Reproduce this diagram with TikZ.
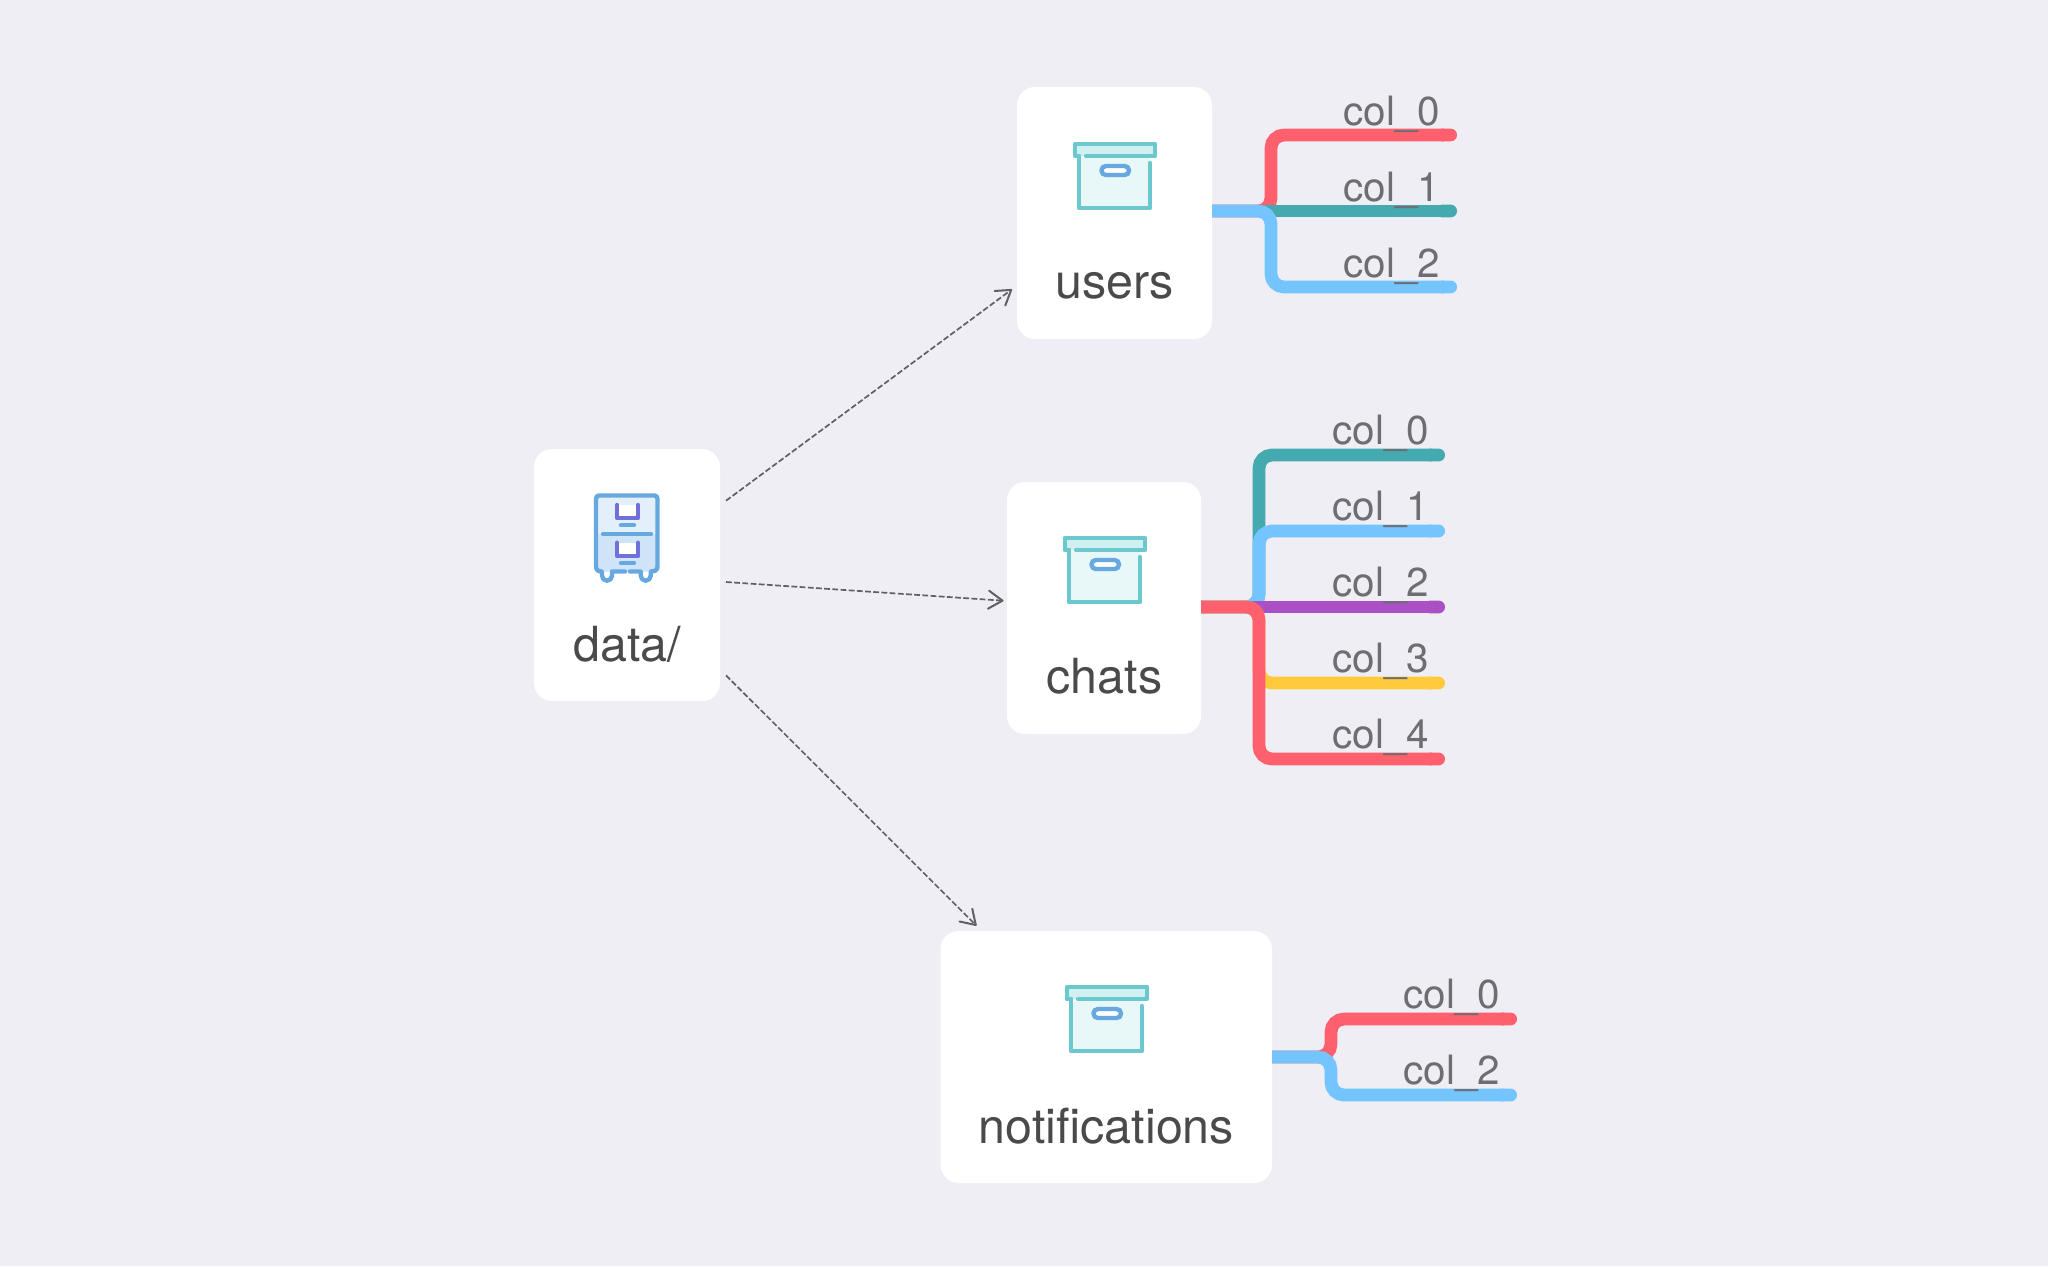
\documentclass[tikz,border=0pt]{standalone}
\usepackage{fontspec}
\setmainfont{TeX Gyre Heros}
\usetikzlibrary{arrows.meta,calc}
\definecolor{bgc}{HTML}{EEEEF4}
\definecolor{redb}{HTML}{FF606D}
\definecolor{tealb}{HTML}{45A9B0}
\definecolor{blueb}{HTML}{74C4FF}
\definecolor{purpb}{HTML}{AB4FC4}
\definecolor{yelb}{HTML}{FFCB3D}
\definecolor{titlec}{HTML}{4A4A4C}
\definecolor{colc}{HTML}{6E6E72}
\definecolor{arrc}{HTML}{5F5F66}
\definecolor{boxs}{HTML}{6AC8CE}
\definecolor{lidf}{HTML}{D0EFF0}
\definecolor{bodyf}{HTML}{E8F7F8}
\definecolor{iconb}{HTML}{68A8E0}
\definecolor{iconp}{HTML}{6F70D8}
\definecolor{cabt}{HTML}{E3F0FB}
\definecolor{cabb}{HTML}{CFE4F8}
\tikzset{
  card/.style={fill=white,rounded corners=9pt,inner sep=0pt,outer sep=0pt},
  titletext/.style={anchor=base,text=titlec,font=\fontsize{24.2}{28}\selectfont,inner sep=0pt},
  coltext/.style={anchor=base west,text=colc,font=\fontsize{20.2}{24}\selectfont,inner sep=0pt},
  branch/.style={line width=6.4pt,rounded corners=6.5pt,-{Round Cap[]}},
  flow/.style={draw=arrc,line width=.85pt,dash pattern=on 2.9pt off 1.2pt,
    -{Straight Barb[length=7pt,width=9pt,line width=1pt,round]}},
  boxicon/.pic={
    \fill[bodyf] (6,16) rectangle (77,66);
    \fill[lidf] (2,2) rectangle (82,14);
    \draw[boxs,line width=2.2pt,line cap=round,line join=round] (13,14) -- (82,14) -- (82,2) -- (2,2) -- (2,14) -- (6,14);
    \draw[boxs,line width=2.2pt,line cap=round,line join=round] (6,14) -- (6,66) -- (77,66) -- (77,21);
    \draw[iconb,fill=white,line width=2.2pt,rounded corners=2.2pt] (28.5,24) rectangle (56,33);
  }
}
\begin{document}
\begin{tikzpicture}[x=0.5pt,y=-0.5pt]
\fill[bgc] (0,0) rectangle (2048,1266);
\useasboundingbox (0,0) rectangle (2048,1266);

% cards
\node[card,minimum width=93pt,minimum height=126pt] (data) at (627,575) {};
\node[card,minimum width=97.5pt,minimum height=126pt] (users) at (1114.5,213) {};
\node[card,minimum width=97pt,minimum height=126pt] (chats) at (1104,608) {};
\node[card,minimum width=165.75pt,minimum height=126pt] (notif) at (1106.25,1057) {};

% titles
\node[titletext] (tdata) at (627.5,661) {data/};
\node[titletext] (tusers) at (1114.5,298.3) {users};
\node[titletext] (tchats) at (1104.5,693.3) {chats};
\node[titletext] (tnotif) at (1106.5,1143.7) {notifications};

% icons
\pic at (1073,142) {boxicon};
\pic at (1063,536) {boxicon};
\pic at (1065,985) {boxicon};

% cabinet icon
\fill[cabb,rounded corners=3pt] (596,495.5) rectangle (657.5,571.5);
\fill[cabt,rounded corners=1.5pt] (596,495.5) -- (657.5,495.5) -- (657.5,534) -- (596,534) -- cycle;
\draw[iconb,line width=2.2pt,line cap=round,line join=round]
  (625,571.5) -- (612,571.5) -- (612,575.7) arc[start angle=0,end angle=180,radius=5]
  -- (602,571.5) .. controls (598,571.5) and (596,570) .. (596,566)
  -- (596,499) .. controls (596,497) and (597,495.5) .. (599,495.5)
  -- (654.5,495.5) .. controls (656.5,495.5) and (657.5,497) .. (657.5,499)
  -- (657.5,566) .. controls (657.5,570) and (655.5,571.5) .. (650.7,571.5)
  -- (650.7,575.7) arc[start angle=0,end angle=180,radius=5]
  -- (640.7,571.5) -- (630,571.5);
\draw[iconb,line width=2.2pt,line cap=round] (603,534) -- (651,534);
\draw[iconb,line width=2.2pt,line cap=round] (621,525) -- (634,525);
\draw[iconb,line width=2.2pt,line cap=round] (621,563) -- (634,563);
\fill[white] (617,505) rectangle (638,518);
\fill[white] (617,542.7) rectangle (638,556);
\draw[iconp,line width=2.2pt,line cap=round,line join=round] (617,505) -- (617,518) -- (638,518) -- (638,505);
\draw[iconp,line width=2.2pt,line cap=round,line join=round] (617,542.7) -- (617,556) -- (638,556) -- (638,542.7);

% flow arrows
\draw[flow] ([shift={(6,-74.3)}]data.east) -- ([shift={(-5,76.3)}]users.west);
\draw[flow] ([shift={(6,7)}]data.east) -- ([shift={(-3.5,-7.3)}]chats.west);
\draw[flow] ([shift={(6,100.3)}]data.east) -- ([shift={(36,-5.3)}]notif.north west);

% users branches
\coordinate (uout) at (users.east |- 0,211);
\coordinate (ue0) at (1457,135);
\coordinate (ue1) at (1457,211);
\coordinate (ue2) at (1457,287);
\coordinate (uv0) at (1271,135);
\coordinate (uv2) at (1271,287);
\draw[branch,redb] (uout) -| (uv0) -- (ue0);
\draw[branch,tealb] (uout) -- (ue1);
\draw[branch,blueb] (uout) -| (uv2) -- (ue2);

% chats branches
\coordinate (cout) at (chats.east |- 0,607);
\coordinate (ce0) at (1445,455);
\coordinate (ce1) at (1445,531);
\coordinate (ce2) at (1445,607);
\coordinate (ce3) at (1445,683);
\coordinate (ce4) at (1445,759);
\coordinate (cv0) at (1259,455);
\coordinate (cv1) at (1259,531);
\coordinate (cv3) at (1259,683);
\coordinate (cv4) at (1259,759);
\draw[branch,tealb] (cout) -| (cv0) -- (ce0);
\draw[branch,blueb] (cout) -| (cv1) -- (ce1);
\draw[branch,purpb] (cout) -- (ce2);
\draw[branch,yelb] (cout) -| (cv3) -- (ce3);
\draw[branch,redb] (cout) -| (cv4) -- (ce4);

% notifications branches
\coordinate (nout) at (notif.east |- 0,1057);
\coordinate (ne0) at (1517,1019);
\coordinate (ne2) at (1517,1095);
\coordinate (nv0) at (1331,1019);
\coordinate (nv2) at (1331,1095);
\draw[branch,redb] (nout) -| (nv0) -- (ne0);
\draw[branch,blueb] (nout) -| (nv2) -- (ne2);

% column labels
\node[coltext] (lu0) at (1343,125.5) {col\_0};
\node[coltext] (lu1) at (1343,201.5) {col\_1};
\node[coltext] (lu2) at (1343,277.5) {col\_2};
\node[coltext] (lc0) at (1332,444.5) {col\_0};
\node[coltext] (lc1) at (1332,520.5) {col\_1};
\node[coltext] (lc2) at (1332,596.5) {col\_2};
\node[coltext] (lc3) at (1332,672.5) {col\_3};
\node[coltext] (lc4) at (1332,748.5) {col\_4};
\node[coltext] (ln0) at (1403,1008.5) {col\_0};
\node[coltext] (ln2) at (1403,1084) {col\_2};
\end{tikzpicture}
\end{document}
